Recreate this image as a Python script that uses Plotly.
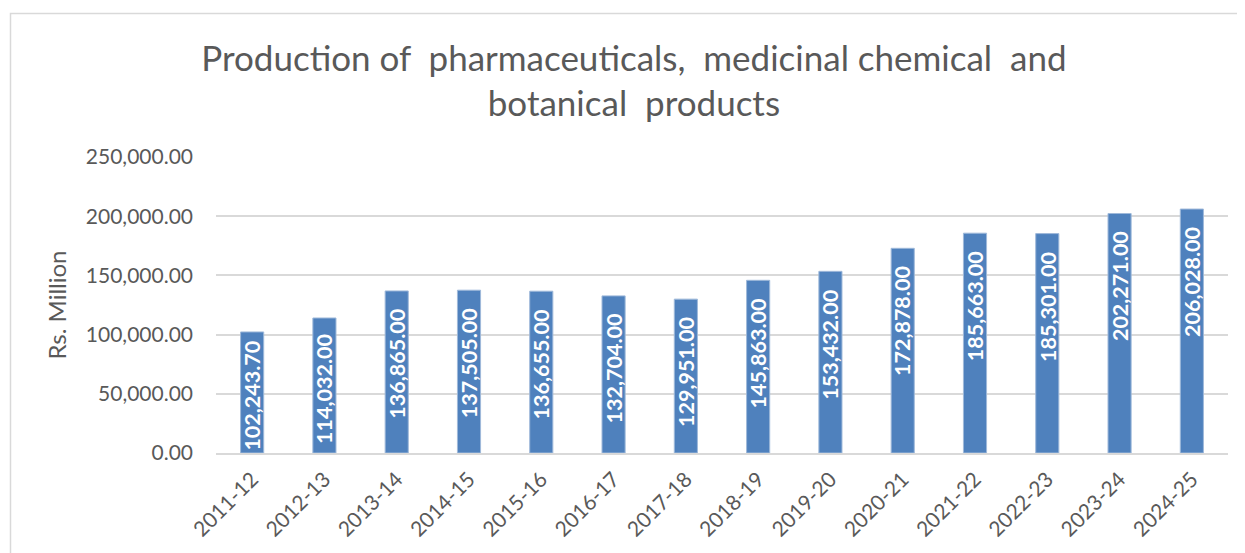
import plotly.graph_objects as go

years = ["2011-12", "2012-13", "2013-14", "2014-15", "2015-16", "2016-17", "2017-18",
         "2018-19", "2019-20", "2020-21", "2021-22", "2022-23", "2023-24", "2024-25"]
production = [102243.70, 114032.00, 136865.00, 137505.00, 136655.00, 132704.00, 129951.00,
              145863.00, 153432.00, 172878.00, 185663.00, 185301.00, 202271.00, 206028.00]
y_ticks = [0, 50000, 100000, 150000, 200000, 250000]

title_text = ("Production of\u00a0\u00a0pharmaceuticals,\u00a0\u00a0medicinal chemical\u00a0\u00a0and"
              "<br>botanical\u00a0\u00a0products")

FONT = "Lato"
GRAY = "#595959"
GRID = "#d9d9d9"
BLUE = "#4f81bd"

W, H = 1237, 545
L, R, T, B = 208, 17, 149, 100
PW = W - L - R
PH = H - T - B
Y_MAX = 250000
LABEL_LEN = 108   # approx rendered length of a rotated value label, px
END_PAD = 16      # Excel-like "inside end" padding, px

fig = go.Figure()
fig.add_trace(go.Bar(
    x=years, y=production,
    marker=dict(color=BLUE, line=dict(color="#9fb9da", width=1)),
    width=0.32,
    hoverinfo="x+y",
))

annotations = []
for cat, val in zip(years, production):
    bar_px = val / Y_MAX * PH
    pad = min(END_PAD, (bar_px - LABEL_LEN) / 2)
    annotations.append(dict(
        x=cat, y=val, xref="x", yref="y",
        text=f"{val:,.2f}", showarrow=False, textangle=-90,
        xanchor="center", yanchor="top", yshift=-pad,
        font=dict(family=FONT, size=21.5, color="white", weight="bold"),
    ))

fig.update_layout(
    width=W, height=H,
    margin=dict(l=L, r=R, t=T, b=B, autoexpand=False),
    paper_bgcolor="white", plot_bgcolor="white",
    font=dict(family=FONT, color=GRAY),
    showlegend=False,
    annotations=annotations,
    title=dict(text=title_text, x=0.506, xref="container", xanchor="center",
               y=0.885, yref="container", yanchor="top",
               font=dict(family=FONT, size=35, color=GRAY)),
    xaxis=dict(
        type="category", tickangle=-45, showgrid=False,
        showline=True, linecolor=GRID, linewidth=1.5,
        ticks="", tickfont=dict(family=FONT, size=21, color=GRAY),
        ticklabelstandoff=4,
    ),
    yaxis=dict(
        range=[0, Y_MAX], tickvals=y_ticks, tickformat=",.2f",
        showgrid=True, gridcolor=GRID, gridwidth=1.5,
        zeroline=False, showline=False, ticks="",
        tickfont=dict(family=FONT, size=21, color=GRAY),
        ticklabelstandoff=22,
        title=dict(text="Rs. Million", font=dict(family=FONT, size=24, color=GRAY), standoff=12),
    ),
    shapes=[dict(type="rect", xref="paper", yref="paper",
                 x0=(2.5 - L) / PW, x1=1.05,
                 y0=-0.4, y1=(H - B - 5.5) / PH,
                 line=dict(color="#d9d9d9", width=1.5), fillcolor="rgba(0,0,0,0)",
                 layer="below")],
)

fig.write_html("out.html")
